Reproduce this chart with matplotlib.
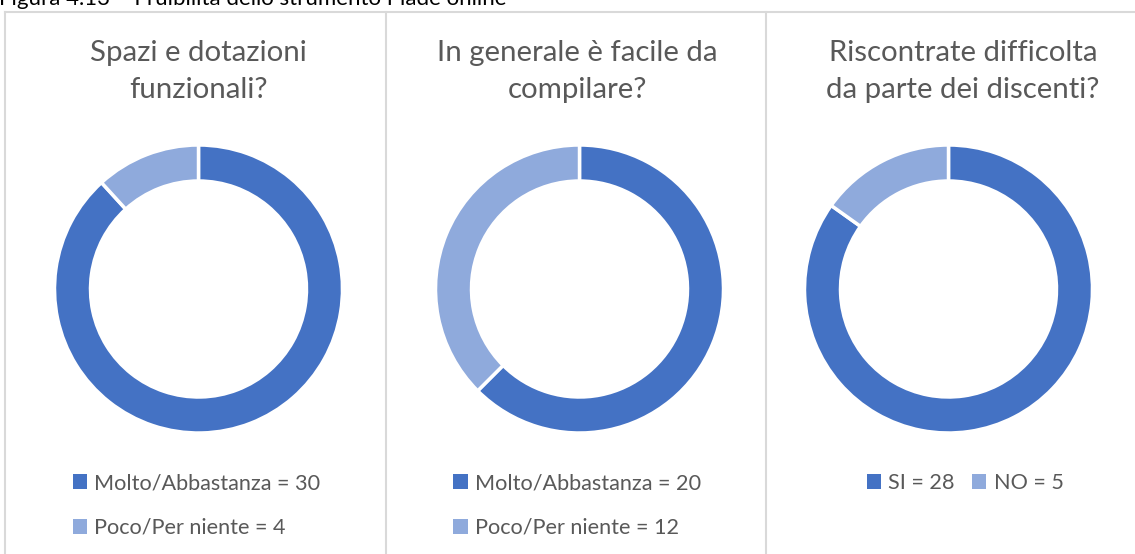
import matplotlib.pyplot as plt
from matplotlib.patches import Patch
from matplotlib.lines import Line2D

# dati
titles = ["Spazi e dotazioni\nfunzionali?",
          "In generale è facile da\ncompilare?",
          "Riscontrate difficolta\nda parte dei discenti?"]
labels_1 = ["Molto/Abbastanza", "Poco/Per niente"]
values_1 = [30, 4]
labels_2 = ["Molto/Abbastanza", "Poco/Per niente"]
values_2 = [20, 12]
labels_3 = ["SI", "NO"]
values_3 = [28, 5]
caption = "Figura 4.13 – Fruibilità dello strumento Piade online"

W, H = 1135, 554
colors = ["#4472C4", "#8FAADC"]
grey = "#595959"
plt.rcParams['font.family'] = ['Lato', 'DejaVu Sans']

fig = plt.figure(figsize=(W / 100, H / 100), dpi=100)

def fx(x):
    return x / W

def fy(y):
    return 1 - y / H

# cornice dei pannelli
border = "#D9D9D9"
for x in [4.5, 386, 766]:
    fig.add_artist(Line2D([fx(x), fx(x)], [fy(12), 0], color=border, lw=1.5))
fig.add_artist(Line2D([fx(4.5), 1], [fy(12), fy(12)], color=border, lw=1.5))

# didascalia tagliata in alto, come nell'originale
fig.text(fx(-1), fy(5), caption, fontsize=16, color="black", va="baseline", ha="left")

centers = [198.5, 579.5, 948.5]
title_x = [198, 577, 963]
cy = 289
r = 144
data = [(labels_1, values_1), (labels_2, values_2), (labels_3, values_3)]

for i, (labs, vals) in enumerate(data):
    cx = centers[i]
    ax = fig.add_axes([fx(cx - r), fy(cy + r), 2 * r / W, 2 * r / H])
    ax.pie(vals, colors=colors, startangle=90, counterclock=False,
           wedgeprops=dict(width=0.25, edgecolor="white", linewidth=2.5))
    ax.set_xlim(-1, 1)
    ax.set_ylim(-1, 1)
    ax.set_aspect("equal")
    ax.axis("off")

    fig.text(fx(title_x[i]), fy(71.5), titles[i], fontsize=21.2, color=grey,
             ha="center", va="center", linespacing=1.52)

    handles = [Patch(facecolor=c, edgecolor="none") for c in colors]
    names = [f"{l} = {v}" for l, v in zip(labs, vals)]
    if i < 2:
        fig.legend(handles, names, loc="upper left",
                   bbox_to_anchor=(fx(cx - 126), fy(473)), ncol=1,
                   frameon=False, fontsize=15.6, labelcolor=grey,
                   handlelength=0.65, handleheight=0.65, handletextpad=0.35,
                   labelspacing=1.15, borderpad=0, borderaxespad=0)
    else:
        fig.legend(handles, names, loc="upper left",
                   bbox_to_anchor=(fx(cx - 82), fy(473)), ncol=2,
                   frameon=False, fontsize=15.6, labelcolor=grey,
                   handlelength=0.65, handleheight=0.65, handletextpad=0.35,
                   columnspacing=0.8, borderpad=0, borderaxespad=0)

fig.savefig("out.png", dpi=100)
